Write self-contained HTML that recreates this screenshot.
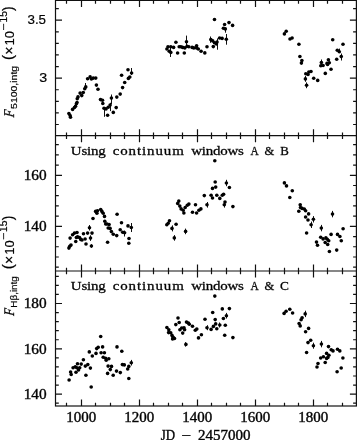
<!DOCTYPE html>
<html><head><meta charset="utf-8"><style>
html,body{margin:0;padding:0;background:#fff;overflow:hidden}
svg{display:block;filter:grayscale(1)}
</style></head><body>
<svg width="357" height="440" viewBox="0 0 357 440">
<rect x="0" y="0" width="357" height="440" fill="#fff"/>
<g stroke="#111" stroke-width="1.2" fill="none">
<rect x="55.5" y="0.4" width="300.9" height="405.6"/>
<line x1="55.5" y1="135.7" x2="356.4" y2="135.7"/>
<line x1="55.5" y1="271.0" x2="356.4" y2="271.0"/>
<path d="M66.50 0.40v3.3M66.50 135.70v3.3M66.50 135.70v-3.3M66.50 271.00v3.3M66.50 271.00v-3.3M66.50 406.00v-3.3M81.50 0.40v6.5M81.50 135.70v6.5M81.50 135.70v-6.5M81.50 271.00v6.5M81.50 271.00v-6.5M81.50 406.00v-6.5M95.50 0.40v3.3M95.50 135.70v3.3M95.50 135.70v-3.3M95.50 271.00v3.3M95.50 271.00v-3.3M95.50 406.00v-3.3M110.50 0.40v3.3M110.50 135.70v3.3M110.50 135.70v-3.3M110.50 271.00v3.3M110.50 271.00v-3.3M110.50 406.00v-3.3M124.50 0.40v3.3M124.50 135.70v3.3M124.50 135.70v-3.3M124.50 271.00v3.3M124.50 271.00v-3.3M124.50 406.00v-3.3M139.50 0.40v6.5M139.50 135.70v6.5M139.50 135.70v-6.5M139.50 271.00v6.5M139.50 271.00v-6.5M139.50 406.00v-6.5M153.50 0.40v3.3M153.50 135.70v3.3M153.50 135.70v-3.3M153.50 271.00v3.3M153.50 271.00v-3.3M153.50 406.00v-3.3M168.50 0.40v3.3M168.50 135.70v3.3M168.50 135.70v-3.3M168.50 271.00v3.3M168.50 271.00v-3.3M168.50 406.00v-3.3M182.50 0.40v3.3M182.50 135.70v3.3M182.50 135.70v-3.3M182.50 271.00v3.3M182.50 271.00v-3.3M182.50 406.00v-3.3M197.50 0.40v6.5M197.50 135.70v6.5M197.50 135.70v-6.5M197.50 271.00v6.5M197.50 271.00v-6.5M197.50 406.00v-6.5M211.50 0.40v3.3M211.50 135.70v3.3M211.50 135.70v-3.3M211.50 271.00v3.3M211.50 271.00v-3.3M211.50 406.00v-3.3M226.50 0.40v3.3M226.50 135.70v3.3M226.50 135.70v-3.3M226.50 271.00v3.3M226.50 271.00v-3.3M226.50 406.00v-3.3M240.50 0.40v3.3M240.50 135.70v3.3M240.50 135.70v-3.3M240.50 271.00v3.3M240.50 271.00v-3.3M240.50 406.00v-3.3M255.50 0.40v6.5M255.50 135.70v6.5M255.50 135.70v-6.5M255.50 271.00v6.5M255.50 271.00v-6.5M255.50 406.00v-6.5M269.50 0.40v3.3M269.50 135.70v3.3M269.50 135.70v-3.3M269.50 271.00v3.3M269.50 271.00v-3.3M269.50 406.00v-3.3M284.50 0.40v3.3M284.50 135.70v3.3M284.50 135.70v-3.3M284.50 271.00v3.3M284.50 271.00v-3.3M284.50 406.00v-3.3M298.50 0.40v3.3M298.50 135.70v3.3M298.50 135.70v-3.3M298.50 271.00v3.3M298.50 271.00v-3.3M298.50 406.00v-3.3M313.50 0.40v6.5M313.50 135.70v6.5M313.50 135.70v-6.5M313.50 271.00v6.5M313.50 271.00v-6.5M313.50 406.00v-6.5M327.50 0.40v3.3M327.50 135.70v3.3M327.50 135.70v-3.3M327.50 271.00v3.3M327.50 271.00v-3.3M327.50 406.00v-3.3M342.50 0.40v3.3M342.50 135.70v3.3M342.50 135.70v-3.3M342.50 271.00v3.3M342.50 271.00v-3.3M342.50 406.00v-3.3M55.5 124.51h3.3M356.4 124.51h-3.3M55.5 112.92h3.3M356.4 112.92h-3.3M55.5 101.33h3.3M356.4 101.33h-3.3M55.5 89.74h3.3M356.4 89.74h-3.3M55.5 78.15h6.5M356.4 78.15h-6.5M55.5 66.56h3.3M356.4 66.56h-3.3M55.5 54.97h3.3M356.4 54.97h-3.3M55.5 43.38h3.3M356.4 43.38h-3.3M55.5 31.79h3.3M356.4 31.79h-3.3M55.5 20.20h6.5M356.4 20.20h-6.5M55.5 8.61h3.3M356.4 8.61h-3.3M55.5 267.19h3.3M356.4 267.19h-3.3M55.5 256.98h3.3M356.4 256.98h-3.3M55.5 246.77h3.3M356.4 246.77h-3.3M55.5 236.56h3.3M356.4 236.56h-3.3M55.5 226.35h6.5M356.4 226.35h-6.5M55.5 216.14h3.3M356.4 216.14h-3.3M55.5 205.93h3.3M356.4 205.93h-3.3M55.5 195.72h3.3M356.4 195.72h-3.3M55.5 185.51h3.3M356.4 185.51h-3.3M55.5 175.30h6.5M356.4 175.30h-6.5M55.5 165.09h3.3M356.4 165.09h-3.3M55.5 154.88h3.3M356.4 154.88h-3.3M55.5 144.67h3.3M356.4 144.67h-3.3M55.5 403.22h3.3M356.4 403.22h-3.3M55.5 394.15h6.5M356.4 394.15h-6.5M55.5 385.08h3.3M356.4 385.08h-3.3M55.5 376.02h3.3M356.4 376.02h-3.3M55.5 366.95h3.3M356.4 366.95h-3.3M55.5 357.89h3.3M356.4 357.89h-3.3M55.5 348.82h6.5M356.4 348.82h-6.5M55.5 339.76h3.3M356.4 339.76h-3.3M55.5 330.69h3.3M356.4 330.69h-3.3M55.5 321.63h3.3M356.4 321.63h-3.3M55.5 312.56h3.3M356.4 312.56h-3.3M55.5 303.50h6.5M356.4 303.50h-6.5M55.5 294.43h3.3M356.4 294.43h-3.3M55.5 285.37h3.3M356.4 285.37h-3.3M55.5 276.30h3.3M356.4 276.30h-3.3"/>
</g><path d="M104.5 107.3V116.8M110.5 102.8V111.1M111.5 94.5V104M85.5 83V90M131.5 68V75M170.5 46V57M186.5 35.6V47.9M210.5 36.5V42.8M217.5 38.4V49.7M226.5 34V44.7M225.5 28V32.7M339.5 48.6V53M341.5 53.5V60.5M321.5 59.5V66M305.5 76V81.8M306.5 82.4V88.2M131.5 223V232M124.5 230.5V236.5M172.5 225.4V231.4M89.5 225V230.5M90.5 235.3V240.9M91.5 244.2V247.8M313.5 216.1V222.5M311.5 221.6V228M332.5 210.9V217.3M321.5 224.9V231.3M226.5 179.8V186.2M207.5 202V207.6M224.5 202V207.6M185.5 228.6V234.2M174.5 235.1V240.7M207.5 325.2V330.2M219.5 322.5V327.5M305.5 310.7V317.1M313.5 342.7V348.7M321.5 340.9V347.3M131.5 359.9V365.5M185.5 342.2V346.6M226.5 312.9V318.5" stroke="#111" stroke-width="1.0" fill="none"/>
<g fill="#000">
<circle cx="68.9" cy="113.5" r="1.8"/>
<circle cx="70.1" cy="115.6" r="1.8"/>
<circle cx="70.5" cy="117.3" r="1.8"/>
<circle cx="72.6" cy="109.4" r="1.8"/>
<circle cx="74.5" cy="107.5" r="1.8"/>
<circle cx="75.5" cy="106.3" r="1.8"/>
<circle cx="76.4" cy="103.8" r="1.8"/>
<circle cx="77" cy="102.5" r="1.8"/>
<circle cx="77.25" cy="98.75" r="1.8"/>
<circle cx="78" cy="96.9" r="1.8"/>
<circle cx="80.1" cy="93.1" r="1.8"/>
<circle cx="81.75" cy="95.6" r="1.8"/>
<circle cx="83.25" cy="92.5" r="1.8"/>
<circle cx="84.75" cy="88.75" r="1.8"/>
<circle cx="85.75" cy="86.9" r="1.8"/>
<circle cx="87.6" cy="78.75" r="1.8"/>
<circle cx="90.1" cy="76.9" r="1.8"/>
<circle cx="91.4" cy="79" r="1.8"/>
<circle cx="93.25" cy="78.1" r="1.8"/>
<circle cx="95.75" cy="78.1" r="1.8"/>
<circle cx="96.4" cy="85.1" r="1.8"/>
<circle cx="98" cy="89.2" r="1.8"/>
<circle cx="100.5" cy="99.6" r="1.8"/>
<circle cx="102.5" cy="100.3" r="1.8"/>
<circle cx="102.8" cy="103.5" r="1.8"/>
<circle cx="104" cy="108.2" r="1.8"/>
<circle cx="106" cy="108.9" r="1.8"/>
<circle cx="108.2" cy="107.3" r="1.8"/>
<circle cx="110.1" cy="105.1" r="1.8"/>
<circle cx="111.4" cy="98.1" r="1.8"/>
<circle cx="116.8" cy="97.1" r="1.8"/>
<circle cx="120.2" cy="94.1" r="1.8"/>
<circle cx="116.2" cy="107.6" r="1.8"/>
<circle cx="113.3" cy="112.4" r="1.8"/>
<circle cx="107.6" cy="115.2" r="1.8"/>
<circle cx="122.6" cy="87.6" r="1.8"/>
<circle cx="124.7" cy="82.5" r="1.8"/>
<circle cx="121.6" cy="75.3" r="1.8"/>
<circle cx="128.4" cy="78.4" r="1.8"/>
<circle cx="129.8" cy="77" r="1.8"/>
<circle cx="128" cy="69.8" r="1.8"/>
<circle cx="131.6" cy="73" r="1.8"/>
<circle cx="166.9" cy="49" r="1.8"/>
<circle cx="168" cy="46.8" r="1.8"/>
<circle cx="169.2" cy="51.3" r="1.8"/>
<circle cx="170.8" cy="52.4" r="1.8"/>
<circle cx="170.8" cy="46.8" r="1.8"/>
<circle cx="173.6" cy="47.4" r="1.8"/>
<circle cx="175.9" cy="42.3" r="1.8"/>
<circle cx="177.6" cy="53" r="1.8"/>
<circle cx="179.2" cy="46.8" r="1.8"/>
<circle cx="180.9" cy="46.8" r="1.8"/>
<circle cx="182.6" cy="47.4" r="1.8"/>
<circle cx="184.8" cy="47.9" r="1.8"/>
<circle cx="184.3" cy="53" r="1.8"/>
<circle cx="186.5" cy="41.8" r="1.8"/>
<circle cx="187.1" cy="46.2" r="1.8"/>
<circle cx="188.8" cy="46.8" r="1.8"/>
<circle cx="192.1" cy="47.4" r="1.8"/>
<circle cx="193.8" cy="47.9" r="1.8"/>
<circle cx="196.6" cy="45.7" r="1.8"/>
<circle cx="196.6" cy="47.9" r="1.8"/>
<circle cx="198.3" cy="49" r="1.8"/>
<circle cx="201.1" cy="51.3" r="1.8"/>
<circle cx="204.8" cy="52.9" r="1.8"/>
<circle cx="207" cy="46.8" r="1.8"/>
<circle cx="210.8" cy="39.6" r="1.8"/>
<circle cx="212.7" cy="40.9" r="1.8"/>
<circle cx="213.3" cy="46.6" r="1.8"/>
<circle cx="214.5" cy="42.8" r="1.8"/>
<circle cx="216.4" cy="44" r="1.8"/>
<circle cx="217" cy="42" r="1.8"/>
<circle cx="219.6" cy="38" r="1.8"/>
<circle cx="222.1" cy="38.4" r="1.8"/>
<circle cx="226.3" cy="39.3" r="1.8"/>
<circle cx="214.5" cy="19.5" r="1.8"/>
<circle cx="223.4" cy="28.3" r="1.8"/>
<circle cx="225.3" cy="28.9" r="1.8"/>
<circle cx="224.6" cy="24.5" r="1.8"/>
<circle cx="229" cy="22.6" r="1.8"/>
<circle cx="232.6" cy="25.4" r="1.8"/>
<circle cx="286.2" cy="31.2" r="1.8"/>
<circle cx="284.4" cy="33.9" r="1.8"/>
<circle cx="290" cy="39" r="1.8"/>
<circle cx="292.1" cy="38" r="1.8"/>
<circle cx="298.9" cy="44.2" r="1.8"/>
<circle cx="299.9" cy="56.5" r="1.8"/>
<circle cx="301.9" cy="60.5" r="1.8"/>
<circle cx="301.4" cy="63.1" r="1.8"/>
<circle cx="305.8" cy="73.7" r="1.8"/>
<circle cx="308.8" cy="72" r="1.8"/>
<circle cx="311" cy="71.5" r="1.8"/>
<circle cx="308" cy="74.5" r="1.8"/>
<circle cx="305.4" cy="78.9" r="1.8"/>
<circle cx="306.6" cy="85.3" r="1.8"/>
<circle cx="313.7" cy="78.2" r="1.8"/>
<circle cx="317.7" cy="80.4" r="1.8"/>
<circle cx="332.7" cy="39.8" r="1.8"/>
<circle cx="343" cy="44.3" r="1.8"/>
<circle cx="337.3" cy="50.3" r="1.8"/>
<circle cx="339.3" cy="51.8" r="1.8"/>
<circle cx="341.25" cy="56.6" r="1.8"/>
<circle cx="336.7" cy="59.2" r="1.8"/>
<circle cx="320.8" cy="65.7" r="1.8"/>
<circle cx="321.4" cy="62.5" r="1.8"/>
<circle cx="323.1" cy="65.5" r="1.8"/>
<circle cx="327" cy="63.4" r="1.8"/>
<circle cx="328.4" cy="59.8" r="1.8"/>
<circle cx="329.3" cy="62.8" r="1.8"/>
<circle cx="327.6" cy="64.5" r="1.8"/>
<circle cx="331" cy="69.3" r="1.8"/>
<circle cx="325.3" cy="73.4" r="1.8"/>
<circle cx="68.9" cy="248.1" r="1.8"/>
<circle cx="69.75" cy="246.25" r="1.8"/>
<circle cx="71" cy="245" r="1.8"/>
<circle cx="70.1" cy="238.1" r="1.8"/>
<circle cx="72.6" cy="234.75" r="1.8"/>
<circle cx="74.5" cy="233.1" r="1.8"/>
<circle cx="77" cy="232.5" r="1.8"/>
<circle cx="76.4" cy="237.5" r="1.8"/>
<circle cx="77.6" cy="236.9" r="1.8"/>
<circle cx="75.75" cy="241.5" r="1.8"/>
<circle cx="79.5" cy="237.5" r="1.8"/>
<circle cx="80.75" cy="239.4" r="1.8"/>
<circle cx="82" cy="240" r="1.8"/>
<circle cx="83.5" cy="233.75" r="1.8"/>
<circle cx="85.1" cy="239" r="1.8"/>
<circle cx="86" cy="244" r="1.8"/>
<circle cx="87.6" cy="233.1" r="1.8"/>
<circle cx="89.5" cy="227.75" r="1.8"/>
<circle cx="90.5" cy="238.1" r="1.8"/>
<circle cx="92" cy="233.1" r="1.8"/>
<circle cx="91.4" cy="246" r="1.8"/>
<circle cx="93" cy="218.5" r="1.8"/>
<circle cx="95.6" cy="211.4" r="1.8"/>
<circle cx="96.9" cy="213.3" r="1.8"/>
<circle cx="97.5" cy="210.8" r="1.8"/>
<circle cx="100.7" cy="209.5" r="1.8"/>
<circle cx="101.9" cy="211.4" r="1.8"/>
<circle cx="103.2" cy="213.3" r="1.8"/>
<circle cx="104.5" cy="216.4" r="1.8"/>
<circle cx="104.8" cy="221.2" r="1.8"/>
<circle cx="105.7" cy="224" r="1.8"/>
<circle cx="107" cy="224" r="1.8"/>
<circle cx="109.1" cy="224.6" r="1.8"/>
<circle cx="108.2" cy="228" r="1.8"/>
<circle cx="110.1" cy="228.4" r="1.8"/>
<circle cx="111.4" cy="231.6" r="1.8"/>
<circle cx="113.3" cy="234.3" r="1.8"/>
<circle cx="116.7" cy="235.6" r="1.8"/>
<circle cx="107.6" cy="242.3" r="1.8"/>
<circle cx="117.1" cy="214.2" r="1.8"/>
<circle cx="121.5" cy="222.7" r="1.8"/>
<circle cx="120.2" cy="229.7" r="1.8"/>
<circle cx="122.7" cy="232.2" r="1.8"/>
<circle cx="124.6" cy="232.8" r="1.8"/>
<circle cx="128" cy="225.9" r="1.8"/>
<circle cx="131.3" cy="227.5" r="1.8"/>
<circle cx="129" cy="238.5" r="1.8"/>
<circle cx="128.8" cy="243.2" r="1.8"/>
<circle cx="166.8" cy="224.8" r="1.8"/>
<circle cx="168.2" cy="223.2" r="1.8"/>
<circle cx="169.5" cy="220.7" r="1.8"/>
<circle cx="172" cy="228.4" r="1.8"/>
<circle cx="176.1" cy="224.3" r="1.8"/>
<circle cx="174.3" cy="237.9" r="1.8"/>
<circle cx="185.6" cy="231.4" r="1.8"/>
<circle cx="178.8" cy="201.1" r="1.8"/>
<circle cx="177.7" cy="203.4" r="1.8"/>
<circle cx="179.8" cy="206.1" r="1.8"/>
<circle cx="181.1" cy="208.9" r="1.8"/>
<circle cx="183.2" cy="210.2" r="1.8"/>
<circle cx="183.9" cy="213" r="1.8"/>
<circle cx="185.2" cy="207.5" r="1.8"/>
<circle cx="187.3" cy="205.2" r="1.8"/>
<circle cx="188.9" cy="204.1" r="1.8"/>
<circle cx="195.5" cy="204.8" r="1.8"/>
<circle cx="192.5" cy="212.3" r="1.8"/>
<circle cx="196.6" cy="213" r="1.8"/>
<circle cx="198.9" cy="210.2" r="1.8"/>
<circle cx="200.9" cy="208.9" r="1.8"/>
<circle cx="204.3" cy="195.6" r="1.8"/>
<circle cx="214.8" cy="160.7" r="1.8"/>
<circle cx="215.2" cy="182" r="1.8"/>
<circle cx="212.5" cy="188.4" r="1.8"/>
<circle cx="215.7" cy="187.1" r="1.8"/>
<circle cx="226.4" cy="183" r="1.8"/>
<circle cx="229.4" cy="187.5" r="1.8"/>
<circle cx="211.1" cy="195.2" r="1.8"/>
<circle cx="212.5" cy="198" r="1.8"/>
<circle cx="216.8" cy="195.2" r="1.8"/>
<circle cx="219.8" cy="198.4" r="1.8"/>
<circle cx="222.3" cy="195.2" r="1.8"/>
<circle cx="223.6" cy="194.3" r="1.8"/>
<circle cx="207" cy="204.8" r="1.8"/>
<circle cx="225" cy="202.1" r="1.8"/>
<circle cx="224.3" cy="204.8" r="1.8"/>
<circle cx="232.9" cy="206.6" r="1.8"/>
<circle cx="284.4" cy="182.9" r="1.8"/>
<circle cx="286.5" cy="185.9" r="1.8"/>
<circle cx="292.3" cy="190.7" r="1.8"/>
<circle cx="289.8" cy="197.5" r="1.8"/>
<circle cx="300.2" cy="204.7" r="1.8"/>
<circle cx="300.5" cy="207.5" r="1.8"/>
<circle cx="302.1" cy="208.4" r="1.8"/>
<circle cx="304.3" cy="209.1" r="1.8"/>
<circle cx="305.6" cy="210.7" r="1.8"/>
<circle cx="298.8" cy="211.2" r="1.8"/>
<circle cx="308.6" cy="213.9" r="1.8"/>
<circle cx="305.6" cy="217" r="1.8"/>
<circle cx="308" cy="220" r="1.8"/>
<circle cx="313.4" cy="219.3" r="1.8"/>
<circle cx="311.1" cy="224.8" r="1.8"/>
<circle cx="306.6" cy="233" r="1.8"/>
<circle cx="332.5" cy="214.1" r="1.8"/>
<circle cx="321.3" cy="228.1" r="1.8"/>
<circle cx="343.1" cy="228.8" r="1.8"/>
<circle cx="331.1" cy="234.4" r="1.8"/>
<circle cx="337.5" cy="234.4" r="1.8"/>
<circle cx="339.9" cy="236.5" r="1.8"/>
<circle cx="341.3" cy="240.7" r="1.8"/>
<circle cx="320.7" cy="237.2" r="1.8"/>
<circle cx="323.1" cy="238.9" r="1.8"/>
<circle cx="325.9" cy="237.9" r="1.8"/>
<circle cx="327.3" cy="239.3" r="1.8"/>
<circle cx="328.7" cy="240.7" r="1.8"/>
<circle cx="325.2" cy="242.5" r="1.8"/>
<circle cx="327.7" cy="244.5" r="1.8"/>
<circle cx="316.5" cy="242.1" r="1.8"/>
<circle cx="317.5" cy="245.3" r="1.8"/>
<circle cx="329.4" cy="251.5" r="1.8"/>
<circle cx="336.7" cy="250.1" r="1.8"/>
<circle cx="69.1" cy="380" r="1.8"/>
<circle cx="70.6" cy="372" r="1.8"/>
<circle cx="71.2" cy="374.5" r="1.8"/>
<circle cx="73.1" cy="367.8" r="1.8"/>
<circle cx="75.3" cy="366.7" r="1.8"/>
<circle cx="76" cy="372.3" r="1.8"/>
<circle cx="76.8" cy="367.8" r="1.8"/>
<circle cx="77.5" cy="363.7" r="1.8"/>
<circle cx="78.5" cy="370" r="1.8"/>
<circle cx="79.7" cy="367.8" r="1.8"/>
<circle cx="81.2" cy="364.1" r="1.8"/>
<circle cx="83.4" cy="359.7" r="1.8"/>
<circle cx="85.3" cy="366.1" r="1.8"/>
<circle cx="87.8" cy="364.6" r="1.8"/>
<circle cx="90.4" cy="368.1" r="1.8"/>
<circle cx="85.9" cy="375.2" r="1.8"/>
<circle cx="91.2" cy="387" r="1.8"/>
<circle cx="89.3" cy="351.9" r="1.8"/>
<circle cx="92.3" cy="356" r="1.8"/>
<circle cx="96" cy="353.4" r="1.8"/>
<circle cx="96.7" cy="348.6" r="1.8"/>
<circle cx="98.2" cy="347.2" r="1.8"/>
<circle cx="100.7" cy="336.5" r="1.8"/>
<circle cx="102.6" cy="346.9" r="1.8"/>
<circle cx="101.1" cy="352.8" r="1.8"/>
<circle cx="104.4" cy="352.8" r="1.8"/>
<circle cx="103.2" cy="357.2" r="1.8"/>
<circle cx="105.6" cy="358.2" r="1.8"/>
<circle cx="106.2" cy="360.2" r="1.8"/>
<circle cx="108.8" cy="358.7" r="1.8"/>
<circle cx="108.1" cy="366.1" r="1.8"/>
<circle cx="111.5" cy="366.4" r="1.8"/>
<circle cx="110.3" cy="369.6" r="1.8"/>
<circle cx="107.6" cy="373.4" r="1.8"/>
<circle cx="113.2" cy="375.2" r="1.8"/>
<circle cx="116.5" cy="371.1" r="1.8"/>
<circle cx="120.3" cy="372.6" r="1.8"/>
<circle cx="117" cy="346.9" r="1.8"/>
<circle cx="121.8" cy="351.3" r="1.8"/>
<circle cx="122.4" cy="364.6" r="1.8"/>
<circle cx="124.3" cy="364.9" r="1.8"/>
<circle cx="128.8" cy="366.4" r="1.8"/>
<circle cx="127.7" cy="369" r="1.8"/>
<circle cx="131.3" cy="362.7" r="1.8"/>
<circle cx="128.8" cy="378.5" r="1.8"/>
<circle cx="166.9" cy="327.5" r="1.8"/>
<circle cx="168.8" cy="329.7" r="1.8"/>
<circle cx="168.6" cy="332.6" r="1.8"/>
<circle cx="170.7" cy="332.8" r="1.8"/>
<circle cx="172" cy="335.4" r="1.8"/>
<circle cx="173.2" cy="337.2" r="1.8"/>
<circle cx="174.5" cy="338.5" r="1.8"/>
<circle cx="172.6" cy="338.9" r="1.8"/>
<circle cx="178" cy="318" r="1.8"/>
<circle cx="179.2" cy="322.5" r="1.8"/>
<circle cx="175.8" cy="324.6" r="1.8"/>
<circle cx="179.9" cy="329.7" r="1.8"/>
<circle cx="181.7" cy="328" r="1.8"/>
<circle cx="184" cy="327.8" r="1.8"/>
<circle cx="184.6" cy="329.7" r="1.8"/>
<circle cx="182.7" cy="333.1" r="1.8"/>
<circle cx="186.5" cy="322.1" r="1.8"/>
<circle cx="188.4" cy="323" r="1.8"/>
<circle cx="189.3" cy="324.3" r="1.8"/>
<circle cx="192.5" cy="326.3" r="1.8"/>
<circle cx="195.3" cy="330.3" r="1.8"/>
<circle cx="196.8" cy="329" r="1.8"/>
<circle cx="201.4" cy="334.7" r="1.8"/>
<circle cx="198.5" cy="337.9" r="1.8"/>
<circle cx="185.9" cy="344.4" r="1.8"/>
<circle cx="205.0" cy="319.2" r="1.8"/>
<circle cx="214.8" cy="296.1" r="1.8"/>
<circle cx="222.3" cy="308.9" r="1.8"/>
<circle cx="229.4" cy="308.6" r="1.8"/>
<circle cx="212.7" cy="312.5" r="1.8"/>
<circle cx="226.4" cy="315.7" r="1.8"/>
<circle cx="223.4" cy="318.5" r="1.8"/>
<circle cx="215.2" cy="319.6" r="1.8"/>
<circle cx="215.7" cy="323.9" r="1.8"/>
<circle cx="219.8" cy="325" r="1.8"/>
<circle cx="225.3" cy="325.3" r="1.8"/>
<circle cx="213.4" cy="326.4" r="1.8"/>
<circle cx="207" cy="327.7" r="1.8"/>
<circle cx="211.1" cy="329.4" r="1.8"/>
<circle cx="216.8" cy="328.8" r="1.8"/>
<circle cx="224.7" cy="335.3" r="1.8"/>
<circle cx="232.9" cy="337.6" r="1.8"/>
<circle cx="284.1" cy="313.4" r="1.8"/>
<circle cx="286.1" cy="311.2" r="1.8"/>
<circle cx="289.8" cy="309.3" r="1.8"/>
<circle cx="292.6" cy="313" r="1.8"/>
<circle cx="305.2" cy="313.9" r="1.8"/>
<circle cx="302.1" cy="317.7" r="1.8"/>
<circle cx="301.1" cy="319.8" r="1.8"/>
<circle cx="299.1" cy="323.5" r="1.8"/>
<circle cx="300.2" cy="325.9" r="1.8"/>
<circle cx="308.6" cy="328.4" r="1.8"/>
<circle cx="305.6" cy="331.7" r="1.8"/>
<circle cx="310.7" cy="340.2" r="1.8"/>
<circle cx="308" cy="342.6" r="1.8"/>
<circle cx="313.4" cy="345.7" r="1.8"/>
<circle cx="306.6" cy="352.5" r="1.8"/>
<circle cx="321.4" cy="344.1" r="1.8"/>
<circle cx="328.5" cy="346.6" r="1.8"/>
<circle cx="331.2" cy="349.8" r="1.8"/>
<circle cx="333" cy="350.9" r="1.8"/>
<circle cx="337.5" cy="349.3" r="1.8"/>
<circle cx="339.8" cy="350.9" r="1.8"/>
<circle cx="342.9" cy="358" r="1.8"/>
<circle cx="326.6" cy="353.4" r="1.8"/>
<circle cx="328.9" cy="355.3" r="1.8"/>
<circle cx="327.9" cy="357.5" r="1.8"/>
<circle cx="326.6" cy="358.4" r="1.8"/>
<circle cx="323.4" cy="356.7" r="1.8"/>
<circle cx="320.7" cy="358" r="1.8"/>
<circle cx="325.2" cy="362.5" r="1.8"/>
<circle cx="318" cy="363.5" r="1.8"/>
<circle cx="317" cy="367" r="1.8"/>
<circle cx="341.2" cy="368" r="1.8"/>
<circle cx="337.1" cy="371.7" r="1.8"/>
</g>
<text transform="translate(27.47,24.00) scale(1.0090,1)" font-family='"Liberation Sans", sans-serif' font-size="13.24" stroke="#111" stroke-width="0.2">3.5</text>
<text transform="translate(39.13,82.00) scale(1.0654,1)" font-family='"Liberation Sans", sans-serif' font-size="13.38" stroke="#111" stroke-width="0.2">3</text>
<text transform="translate(23.63,180.00) scale(1.0955,1)" font-family='"Liberation Serif", serif' font-size="13.93" stroke="#111" stroke-width="0.4">160</text>
<text transform="translate(23.63,231.00) scale(1.0955,1)" font-family='"Liberation Serif", serif' font-size="13.93" stroke="#111" stroke-width="0.4">140</text>
<text transform="translate(23.63,308.00) scale(1.0955,1)" font-family='"Liberation Serif", serif' font-size="13.93" stroke="#111" stroke-width="0.4">180</text>
<text transform="translate(23.63,354.00) scale(1.0955,1)" font-family='"Liberation Serif", serif' font-size="13.93" stroke="#111" stroke-width="0.4">160</text>
<text transform="translate(23.63,399.00) scale(1.0955,1)" font-family='"Liberation Serif", serif' font-size="13.93" stroke="#111" stroke-width="0.4">140</text>
<text transform="translate(66.20,422.00) scale(1.0986,1)" font-family='"Liberation Serif", serif' font-size="13.63" stroke="#111" stroke-width="0.4">1000</text>
<text transform="translate(124.23,422.00) scale(1.0986,1)" font-family='"Liberation Serif", serif' font-size="13.63" stroke="#111" stroke-width="0.4">1200</text>
<text transform="translate(182.25,422.00) scale(1.0986,1)" font-family='"Liberation Serif", serif' font-size="13.63" stroke="#111" stroke-width="0.4">1400</text>
<text transform="translate(240.28,422.00) scale(1.0986,1)" font-family='"Liberation Serif", serif' font-size="13.63" stroke="#111" stroke-width="0.4">1600</text>
<text transform="translate(298.31,422.00) scale(1.0986,1)" font-family='"Liberation Serif", serif' font-size="13.63" stroke="#111" stroke-width="0.4">1800</text>
<text transform="translate(160.74,440.00) scale(0.9386,1)" font-family='"Liberation Serif", serif' font-size="13.80" stroke="#111" stroke-width="0.4">JD</text>
<text transform="translate(181.55,440.00) scale(1.2311,1)" font-family='"Liberation Serif", serif' font-size="13.80" stroke="#111" stroke-width="0.4">−</text>
<text transform="translate(198.02,440.00) scale(1.0907,1)" font-family='"Liberation Serif", serif' font-size="13.80" stroke="#111" stroke-width="0.4">2457000</text>
<text transform="translate(70.80,155.00) scale(1.1500,1)" font-family='"Liberation Serif", serif' font-size="13.00" letter-spacing="-0.159" stroke="#111" stroke-width="0.3">Using</text>
<text transform="translate(112.70,155.00) scale(1.1500,1)" font-family='"Liberation Serif", serif' font-size="13.00" letter-spacing="0.784" stroke="#111" stroke-width="0.3">continuum</text>
<text transform="translate(191.30,155.00) scale(1.1500,1)" font-family='"Liberation Serif", serif' font-size="13.00" letter-spacing="-0.195" stroke="#111" stroke-width="0.3">windows</text>
<text transform="translate(250.39,155.00) scale(0.8729,1)" font-family='"Liberation Serif", serif' font-size="13.00" stroke="#111" stroke-width="0.3">A</text>
<text transform="translate(264.40,155.00) scale(0.9615,1)" font-family='"Liberation Serif", serif' font-size="13.00" stroke="#111" stroke-width="0.3">&amp;</text>
<text transform="translate(280.21,155.00) scale(0.9909,1)" font-family='"Liberation Serif", serif' font-size="13.00" stroke="#111" stroke-width="0.3">B</text>
<text transform="translate(70.80,290.40) scale(1.1500,1)" font-family='"Liberation Serif", serif' font-size="13.00" letter-spacing="-0.159" stroke="#111" stroke-width="0.3">Using</text>
<text transform="translate(112.70,290.40) scale(1.1500,1)" font-family='"Liberation Serif", serif' font-size="13.00" letter-spacing="0.784" stroke="#111" stroke-width="0.3">continuum</text>
<text transform="translate(191.30,290.40) scale(1.1500,1)" font-family='"Liberation Serif", serif' font-size="13.00" letter-spacing="-0.195" stroke="#111" stroke-width="0.3">windows</text>
<text transform="translate(250.39,290.40) scale(0.8729,1)" font-family='"Liberation Serif", serif' font-size="13.00" stroke="#111" stroke-width="0.3">A</text>
<text transform="translate(264.40,290.40) scale(0.9615,1)" font-family='"Liberation Serif", serif' font-size="13.00" stroke="#111" stroke-width="0.3">&amp;</text>
<text transform="translate(280.07,290.40) scale(1.0256,1)" font-family='"Liberation Serif", serif' font-size="13.00" stroke="#111" stroke-width="0.3">C</text>
<text transform="translate(13.65,117.04) rotate(-90) scale(0.7913,1) translate(0,-4.90) skewX(-8) translate(0,4.90)" font-family='"Liberation Serif", serif' font-size="14.96" font-style="italic" stroke="#111" stroke-width="0.35">F</text>
<text transform="translate(17.40,108.92) rotate(-90) scale(1.1025,1)" font-family='"Liberation Sans", sans-serif' font-size="9.50" stroke="#111" stroke-width="0.2">5100,intg</text>
<text transform="translate(13.41,60.01) rotate(-90) scale(1.0611,1)" font-family='"Liberation Sans", sans-serif' font-size="14.22" stroke="#111" stroke-width="0.2">(</text>
<text transform="translate(13.93,54.78) rotate(-90) scale(1.0000,1)" font-family='"Liberation Sans", sans-serif' font-size="13.93" stroke="#111" stroke-width="0.2">×</text>
<text transform="translate(13.56,45.47) rotate(-90) scale(0.9490,1)" font-family='"Liberation Sans", sans-serif' font-size="13.66" stroke="#111" stroke-width="0.2">10</text>
<text transform="translate(7.20,30.51) rotate(-90) scale(1.2805,1)" font-family='"Liberation Sans", sans-serif' font-size="9.50" stroke="#111" stroke-width="0.2">−</text>
<text transform="translate(6.60,22.58) rotate(-90) scale(1.0352,1)" font-family='"Liberation Sans", sans-serif' font-size="10.00" stroke="#111" stroke-width="0.2">15</text>
<text transform="translate(12.96,10.94) rotate(-90) scale(0.9883,1)" font-family='"Liberation Sans", sans-serif' font-size="14.01" stroke="#111" stroke-width="0.2">)</text>
<text transform="translate(13.80,315.44) rotate(-90) scale(0.7969,1) translate(0,-4.80) skewX(-8) translate(0,4.80)" font-family='"Liberation Serif", serif' font-size="14.66" font-style="italic" stroke="#111" stroke-width="0.35">F</text>
<text transform="translate(17.40,307.69) rotate(-90) scale(1.0422,1)" font-family='"Liberation Sans", sans-serif' font-size="9.50" stroke="#111" stroke-width="0.2">Hβ,intg</text>
<text transform="translate(13.41,269.31) rotate(-90) scale(1.0611,1)" font-family='"Liberation Sans", sans-serif' font-size="14.22" stroke="#111" stroke-width="0.2">(</text>
<text transform="translate(13.93,264.08) rotate(-90) scale(1.0000,1)" font-family='"Liberation Sans", sans-serif' font-size="13.93" stroke="#111" stroke-width="0.2">×</text>
<text transform="translate(13.56,254.77) rotate(-90) scale(0.9490,1)" font-family='"Liberation Sans", sans-serif' font-size="13.66" stroke="#111" stroke-width="0.2">10</text>
<text transform="translate(7.20,239.81) rotate(-90) scale(1.2805,1)" font-family='"Liberation Sans", sans-serif' font-size="9.50" stroke="#111" stroke-width="0.2">−</text>
<text transform="translate(6.60,231.88) rotate(-90) scale(1.0352,1)" font-family='"Liberation Sans", sans-serif' font-size="10.00" stroke="#111" stroke-width="0.2">15</text>
<text transform="translate(12.96,220.24) rotate(-90) scale(0.9883,1)" font-family='"Liberation Sans", sans-serif' font-size="14.01" stroke="#111" stroke-width="0.2">)</text>
</svg>
</body></html>
